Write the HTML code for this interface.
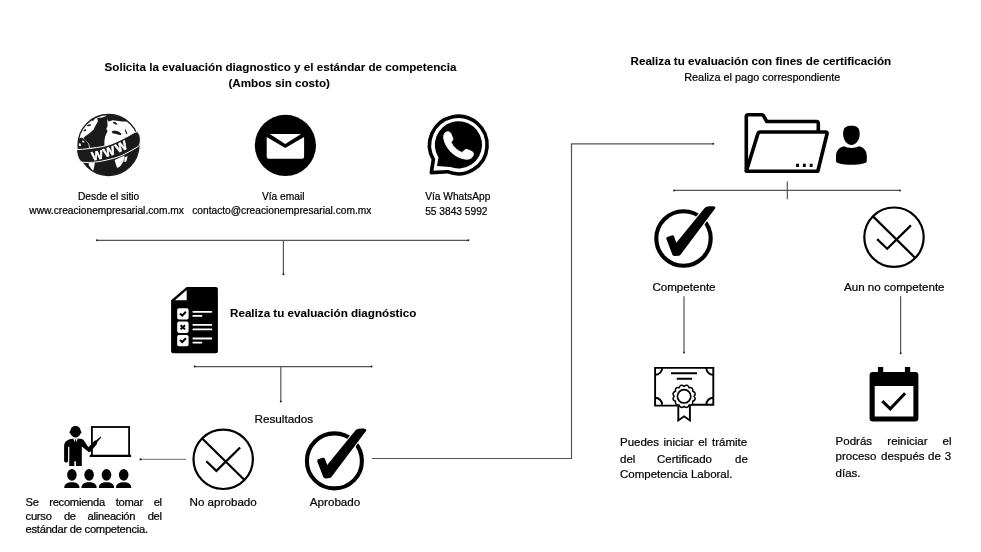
<!DOCTYPE html>
<html><head><meta charset="utf-8">
<style>
html,body{margin:0;padding:0;background:#fff;}
body{width:981px;height:552px;overflow:hidden;position:relative;font-family:"Liberation Sans",sans-serif;color:#111;}
svg{position:absolute;left:0;top:0;filter:grayscale(1);}
.t{font-family:"Liberation Sans",sans-serif;fill:#000;stroke:#000;stroke-width:0.22px;}
.b{font-weight:bold;stroke-width:0.08px;}
.p{position:absolute;font-family:"Liberation Sans",sans-serif;text-align:justify;text-align-last:left;color:#111;}
</style></head><body>
<svg width="981" height="552" viewBox="0 0 981 552">
<!-- connectors -->
<g stroke="#555" stroke-width="1.2" fill="none">
  <path d="M97,240.3 H468.4"/>
  <path d="M283.4,240.3 V274.3"/>
  <path d="M194.6,366.6 H371.5"/>
  <path d="M280.8,366.6 V401.5"/>
  <path d="M140.4,459.4 H186" stroke="#8a8a8a"/>
  <path d="M372,458.5 H571.5 V143.8 H713.2"/>
  <path d="M674.1,190.4 H900"/>
  <path d="M787.3,181.6 V199.3"/>
  <path d="M684,296.2 V352.4"/>
  <path d="M900.6,296.2 V353.3"/>
</g>


<g fill="#222"><circle cx="97" cy="240.3" r="1"/><circle cx="468.4" cy="240.3" r="1"/><circle cx="283.4" cy="274.3" r="1"/><circle cx="194.6" cy="366.6" r="1"/><circle cx="371.5" cy="366.6" r="1"/><circle cx="280.8" cy="401.5" r="1"/><circle cx="713.2" cy="143.8" r="1"/><circle cx="674.1" cy="190.4" r="1"/><circle cx="900" cy="190.4" r="1"/><circle cx="684" cy="352.4" r="1"/><circle cx="900.6" cy="353.3" r="1"/><circle cx="140.6" cy="459.4" r="1.1"/></g>
<!-- ICONS -->
<!-- globe -->
<defs><clipPath id="gc"><circle cx="108.5" cy="145" r="30.4"/></clipPath></defs>
<g>
  <circle cx="108.5" cy="145" r="30.4" fill="#fff"/>
  <g clip-path="url(#gc)" fill="#1a1a1a">
    <path d="M97.2,117.8 L97.9,121.4 L95,126.5 L93.6,129.4 L89.9,133 L85.6,135.9 L83.4,138.1 L86.3,141 L89.2,143.9 L89.9,148 L103,147 L104.4,146.1 L104.4,141 L105.1,136.6 L107.6,130.9 L106.3,129 L107.6,125.8 L107,115.7 L101.5,117.8 Z"/>
    <path d="M106,114 L113,114.2 L120,116.3 L125.5,119.6 L126.8,121.5 L122,121.6 L119,120.9 L112.7,120.2 L108.7,121.5 L107.3,119.5 Z"/>
    <path d="M76.9,139.5 L81.2,137.4 L84.9,139.5 L88.5,143.9 L89.2,149.5 L76,150.5 Z"/>
    <path d="M87,125 L90.5,124 L91,125.6 L87.6,126.6 Z M83.4,130 L85.6,129 L86.2,130.5 L84,131.5 Z M91.5,119.5 L94,118.5 L94.4,120 L92,121 Z M86,121 L88,120.2 L88.3,121.5 L86.3,122.3 Z"/>
    <path d="M112.7,122.3 L115,121.8 L117.7,124.2 L116.5,124.8 L113.5,123.6 Z"/>
    <path d="M111.6,131.5 L114.5,130.4 L118.5,131.6 L121.5,133.8 L120.5,135.3 L116,134 L112.5,133.3 Z"/>
    <path d="M124.7,129.8 L125.9,129.5 L127.3,133.8 L126.2,134.2 Z"/>
    <path d="M76,162 C86,162.6 100,161.5 110.2,159.2 C118,157.5 128,152 137.8,146.8 L145,140 L145,190 L70,190 Z"/>
  </g>
  <g clip-path="url(#gc)" fill="#fff">
    <path d="M78.3,143.2 L80.5,143.5 L81.2,146.1 L79,146 Z M82,140.5 L84,141 L84.5,142.5 L82.5,142.3 Z"/>
    <path d="M88.5,163 L95,162.5 L94.3,166 L93.2,171.5 L91,168.5 L89,165.5 Z"/>
    <path d="M114.6,159.9 L124.5,155.6 L123.5,161.5 L120,166.5 L117.2,168 L116,165 Z"/>
    <path d="M124.3,157.5 L127.6,155.9 L126.4,161.5 L124.4,162 Z"/>
  </g>
  <circle cx="108.5" cy="145" r="30.5" fill="none" stroke="#1a1a1a" stroke-width="1.3"/>
  <path d="M76.5,149.7 C84,149.3 95,148 103,146.5 C112,144.5 122,139.5 128.3,136 C131.5,134.3 134,132.5 137,131.6 C139.5,133 140.8,137 140.3,141 C140.2,143.5 139.5,145.5 137.8,146.8 C133,149.5 129,152 124.7,154.1 C120,156.5 115,158 110.2,159.2 C105,160.5 100,161.5 95.7,162 C91,162.5 86,162.6 82,162.2 C79,160.5 77,156 76.5,149.7 Z" fill="#1a1a1a" stroke="#fff" stroke-width="1"/>
  <g font-family="Liberation Sans" font-weight="bold" font-size="12.3" fill="#fff" stroke="#fff" stroke-width="0.5" text-anchor="middle">
    <text x="97.2" y="159.7" transform="rotate(-12 97.2 155.2)">W</text>
    <text x="109" y="155.9" transform="rotate(-19 109 151.4)">W</text>
    <text x="121.1" y="151" transform="rotate(-25 121.1 146.5)">W</text>
  </g>
</g>

<!-- email -->
<circle cx="285.4" cy="145.4" r="30.6" fill="#000"/>
<path d="M266.7,137.1 L285.2,147.9 L304.1,137.1 V156.7 Q304.1,158.7 302.1,158.7 H268.7 Q266.7,158.7 266.7,156.7 Z" fill="#fff"/>
<path d="M269.8,134 H301.1 L285.2,144 Z" fill="#fff"/>

<!-- whatsapp -->
<path d="M447.51,171.70 A28.8,28.8 0 1 0 433.36,159.40 L431.3,172.6 Z" fill="#fff" stroke="#000" stroke-width="3.6" stroke-linejoin="round"/>
<path d="M450.30,166.99 A23.6,23.6 0 1 0 438.46,157.40 L437.0,166.0 Z" fill="#000"/>
<path d="M446.4,132 C448.5,131.5 450,132 450.8,133.5 L452.8,138.3 C453.2,139.5 452.5,140.5 451.8,141.3 L451.2,142.2 C452.5,146 457,150.5 462,152.5 L464.8,150 C465.5,149.3 466.5,149.2 467.5,149.6 L472,151.6 C473.3,152.3 473.5,153.5 473.2,155 L472.3,157 C471,158.6 468.5,159.4 466,159.2 C455,158 446,149 443.8,139 C443.3,136 444,133 446.4,132 Z" fill="#fff" stroke="#fff" stroke-width="0.9" stroke-linejoin="round"/>

<!-- checklist doc -->
<path d="M186.7,287 H215.9 Q217.9,287 217.9,289 V351.2 Q217.9,353.2 215.9,353.2 H173.1 Q171.1,353.2 171.1,351.2 V300.3 Z" fill="#000"/>
<path d="M174.9,300.3 H186.7 V290.1 Z" fill="#fff"/>
<g fill="#fff">
  <rect x="177.2" y="308.2" width="11.4" height="11.3" rx="1.8"/>
  <rect x="177.2" y="321.6" width="11.4" height="11.3" rx="1.8"/>
  <rect x="177.2" y="334.9" width="11.4" height="11.3" rx="1.8"/>
</g>
<g stroke="#fff" stroke-width="1.8" stroke-linecap="round">
  <path d="M193.3,311.8 H211.4 M193.3,315.9 H201.5 M193.3,324.9 H211.4 M193.3,329.4 H211.4 M193.3,338.5 H211.4 M193.3,342.6 H201.5"/>
</g>
<g stroke="#000" stroke-width="2" fill="none">
  <path d="M180,313.6 L182.2,315.6 L185.9,311.8"/>
  <path d="M180,340 L182.2,342 L185.9,338.2"/>
  <path d="M180.6,325.2 L185,329.4 M185,325.2 L180.6,329.4"/>
</g>

<!-- teacher -->
<g fill="#000">
  <rect x="91.9" y="427" width="37.2" height="28.8" fill="none" stroke="#000" stroke-width="1.8"/>
  <rect x="89.7" y="454.8" width="41.4" height="2.2"/>
  <ellipse cx="75.5" cy="431.6" rx="5.3" ry="5.9"/>
  <path d="M72.5,438.8 C68.5,439.2 64.2,441 64.1,446 V460.5 C64.1,462 65,462.6 66.1,462.6 C67.3,462.6 68.2,462 68.2,460.5 V447 H69.2 V466 H74.3 V461.2 H75.9 V466 H81.8 V446.5 L88.1,451.6 C89,452.4 90.1,452.2 90.8,451.3 L96.6,444.5 C97,444 97.1,443.4 96.9,442.8 L101.2,437.3 L100.6,436.6 L96,440.6 C95.5,440.3 94.9,440.4 94.5,440.8 L88.3,447.2 L84.2,441 C83.5,439.8 82.5,438.9 80.5,438.8 Z"/>
  <path d="M73.2,438.8 L75.5,443.8 L77.8,438.8 Z" fill="#fff"/>
  <path d="M75,439.6 H76 L76.4,445.8 L75.5,447.2 L74.6,445.8 Z"/>
  <path d="M68.7,446.5 V461" stroke="#fff" stroke-width="0.8"/>
  <ellipse cx="70.4" cy="432.3" rx="0.8" ry="1.3"/><ellipse cx="80.6" cy="432.3" rx="0.8" ry="1.3"/>
  <g>
    <ellipse cx="71.9" cy="474.8" rx="4.8" ry="5.9"/>
    <ellipse cx="89.1" cy="474.8" rx="4.8" ry="5.9"/>
    <ellipse cx="106.5" cy="474.8" rx="4.8" ry="5.9"/>
    <ellipse cx="123.7" cy="474.8" rx="4.8" ry="5.9"/>
    <path d="M64.2,488 C64.2,484 67.5,482.3 71.9,482.3 C76.3,482.3 79.5,484 79.5,488 Z"/>
    <path d="M81.4,488 C81.4,484 84.7,482.3 89.1,482.3 C93.5,482.3 96.7,484 96.7,488 Z"/>
    <path d="M98.8,488 C98.8,484 102.1,482.3 106.5,482.3 C110.9,482.3 114.1,484 114.1,488 Z"/>
    <path d="M116,488 C116,484 119.3,482.3 123.7,482.3 C128.1,482.3 131.3,484 131.3,488 Z"/>
  </g>
</g>

<!-- no aprobado -->
<g fill="none" stroke="#000" stroke-width="2.2">
  <circle cx="223.2" cy="459.3" r="29.7"/>
  <path d="M202.2,438.5 L244.2,479.8"/>
  <path d="M206.3,461.2 L216.4,470.9 L240.1,447.5"/>
</g>
<!-- aprobado -->
<g transform="translate(334.4,460.9)">
  <circle r="27.5" fill="none" stroke="#000" stroke-width="4.1"/>
  <path d="M30,-32.2 C27.5,-32.6 23,-32 21.6,-31.1 L-7.2,4.2 L-9.6,-2.4 Q-10.4,-3.6 -11.9,-3.1 L-16.3,-1.6 Q-17.5,-0.9 -17.1,0.6 L-11.1,16.2 Q-10.4,17.7 -8.4,17.5 L-5,17.2 Q-3.8,17 -2.8,15.9 L31.6,-29.9 Q32.6,-31.9 30,-32.2 Z" fill="#000" stroke="#fff" stroke-width="2.2" paint-order="stroke"/>
</g>

<!-- folder -->
<g fill="none" stroke="#000" stroke-width="3.6" stroke-linejoin="round">
  <path d="M746.3,171.2 V116.5 Q746.3,114.7 748.3,114.7 H761.5 Q762.8,114.7 763.5,115.8 L766.8,121.5 H816.5 Q818.3,121.5 818.3,123.5 V131"/>
  <path d="M746.3,171.2 L757.8,134 Q758.3,132 760.3,132 H825.5 Q827.5,132 827,134 L817.8,171.2 Z" fill="#fff"/>
</g>
<g fill="#000"><rect x="796.1" y="163.7" width="2.9" height="3.3"/><rect x="802.9" y="163.7" width="2.9" height="3.3"/><rect x="809.7" y="163.7" width="2.9" height="3.3"/></g>
<!-- person -->
<g fill="#000">
  <path d="M851.4,125.8 C856,125.8 859.7,127.3 859.7,133.8 C859.7,140 856,144.9 851.4,144.9 C846.8,144.9 843.1,140 843.1,133.8 C843.1,127.3 846.8,125.8 851.4,125.8 Z"/>
  <path d="M844,146.3 C846,147.5 849,148 851.4,148 C854,148 857,147.5 859,146.3 C864,147.5 866.8,151 866.8,156 V161 C866.8,163.5 860,164.8 851.4,164.8 C843,164.8 836,163.5 836,161 V156 C836,151 839,147.5 844,146.3 Z"/>
</g>

<!-- competente check -->
<g transform="translate(683.5,238.5)">
  <circle r="27.2" fill="none" stroke="#000" stroke-width="4.1"/>
  <path d="M30,-32.2 C27.5,-32.6 23,-32 21.6,-31.1 L-7.2,4.2 L-9.6,-2.4 Q-10.4,-3.6 -11.9,-3.1 L-16.3,-1.6 Q-17.5,-0.9 -17.1,0.6 L-11.1,16.2 Q-10.4,17.7 -8.4,17.5 L-5,17.2 Q-3.8,17 -2.8,15.9 L31.6,-29.9 Q32.6,-31.9 30,-32.2 Z" fill="#000" stroke="#fff" stroke-width="2.2" paint-order="stroke"/>
</g>
<!-- aun no competente -->
<g transform="translate(894,237.2)" fill="none" stroke="#000" stroke-width="2.2">
  <circle r="29.7"/>
  <path d="M-21,-20.8 L21,20.5"/>
  <path d="M-16.9,1.9 L-6.8,11.6 L16.9,-11.8"/>
</g>

<!-- certificate -->
<g fill="none" stroke="#000" stroke-width="1.9">
  <path d="M677.6,405.6 H655.1 V367.9 H713.3 V404.7 H690.8"/>
  <path d="M655.1,374.9 A7,7 0 0 0 662.1,367.9 M706.3,367.9 A7,7 0 0 0 713.3,374.9 M655.1,397.7 A7,7 0 0 1 662.1,404.7 M706.3,404.7 A7,7 0 0 1 713.3,397.7"/>
  <path d="M671,373.3 H697 M676.8,378.8 H692"/>
  <path d="M678.3,405.5 V420.5 L684.1,416.3 L689.9,420.5 V405.5"/>
</g>
<path fill="#fff" stroke="#000" stroke-width="1.5" d="M684.10,386.30 Q687.52,383.55 689.10,387.64 Q693.43,386.97 692.76,391.30 Q696.85,392.88 694.10,396.30 Q696.85,399.72 692.76,401.30 Q693.43,405.63 689.10,404.96 Q687.52,409.05 684.10,406.30 Q680.68,409.05 679.10,404.96 Q674.77,405.63 675.44,401.30 Q671.35,399.72 674.10,396.30 Q671.35,392.88 675.44,391.30 Q674.77,386.97 679.10,387.64 Q680.68,383.55 684.10,386.30 Z"/>
<circle cx="684.1" cy="396.3" r="6.7" fill="none" stroke="#000" stroke-width="1.7"/>

<!-- calendar -->
<path d="M872.6,372 H915.4 Q918.4,372 918.4,375 V418.5 Q918.4,421.5 915.4,421.5 H872.6 Q869.6,421.5 869.6,418.5 V375 Q869.6,372 872.6,372 Z M874.7,386 V416.4 H913.4 V386 Z" fill="#000" fill-rule="evenodd"/>
<rect x="877.9" y="367" width="5.3" height="6" fill="#000"/>
<rect x="904.9" y="367" width="5.3" height="6" fill="#000"/>
<path d="M882.3,401.2 L890.3,408.8 L905.1,393.2" fill="none" stroke="#000" stroke-width="3"/>

<!-- text -->
<g class="t">
  <text class="b" x="280.5" y="71.3" font-size="11.65" text-anchor="middle">Solicita la evaluación diagnostico y el estándar de competencia</text>
  <text class="b" x="279.2" y="86.8" font-size="11.65" text-anchor="middle">(Ambos sin costo)</text>
  <text x="108.6" y="200" font-size="10.2" text-anchor="middle">Desde el sitio</text>
  <text x="106.6" y="214" font-size="10.2" text-anchor="middle">www.creacionempresarial.com.mx</text>
  <text x="283.2" y="200" font-size="10.2" text-anchor="middle">Vía email</text>
  <text x="281.8" y="214" font-size="10.2" text-anchor="middle">contacto@creacionempresarial.com.mx</text>
  <text x="425.2" y="200" font-size="10.2">Vía WhatsApp</text>
  <text x="425.2" y="215" font-size="10.2">55 3843 5992</text>
  <text class="b" x="230" y="317.3" font-size="11.65">Realiza tu evaluación diagnóstico</text>
  <text x="254.4" y="422.8" font-size="11.75">Resultados</text>
  <text x="189.5" y="505.9" font-size="11.65">No aprobado</text>
  <text x="309.8" y="505.9" font-size="11.65">Aprobado</text>
  <text class="b" x="630.5" y="64.8" font-size="11.65">Realiza tu evaluación con fines de certificación</text>
  <text x="684.2" y="81.4" font-size="10.9">Realiza el pago correspondiente</text>
  <text x="652.4" y="291" font-size="11.6">Competente</text>
  <text x="844" y="291" font-size="11.6">Aun no competente</text>
  <!-- left paragraph -->
  <g font-size="11.2" letter-spacing="-0.27">
    <text x="25.6" y="506">Se</text><text x="49.2" y="506">recomienda</text><text x="115.7" y="506">tomar</text><text x="161.8" y="506" text-anchor="end">el</text>
    <text x="25.6" y="519.7">curso</text><text x="63.9" y="519.7">de</text><text x="87.6" y="519.7">alineación</text><text x="161.8" y="519.7" text-anchor="end">del</text>
    <text x="25.6" y="533.1">estándar de competencia.</text>
  </g>
  <g font-size="11.5">
    <text x="620" y="446.4">Puedes</text><text x="663.5" y="446.4">iniciar</text><text x="698.2" y="446.4">el</text><text x="712" y="446.4">trámite</text>
    <text x="620" y="462.5">del</text><text x="657" y="462.5">Certificado</text><text x="735" y="462.5">de</text>
    <text x="620" y="477.9">Competencia Laboral.</text>
    <text x="835.6" y="444.5">Podrás</text><text x="887.3" y="444.5">reiniciar</text><text x="942.6" y="444.5">el</text>
    <text x="835.6" y="460.4">proceso</text><text x="881.1" y="460.4">después</text><text x="928" y="460.4">de</text><text x="944.8" y="460.4">3</text>
    <text x="835.6" y="476.6">días.</text>
  </g>
</g>
</svg>
</body></html>
